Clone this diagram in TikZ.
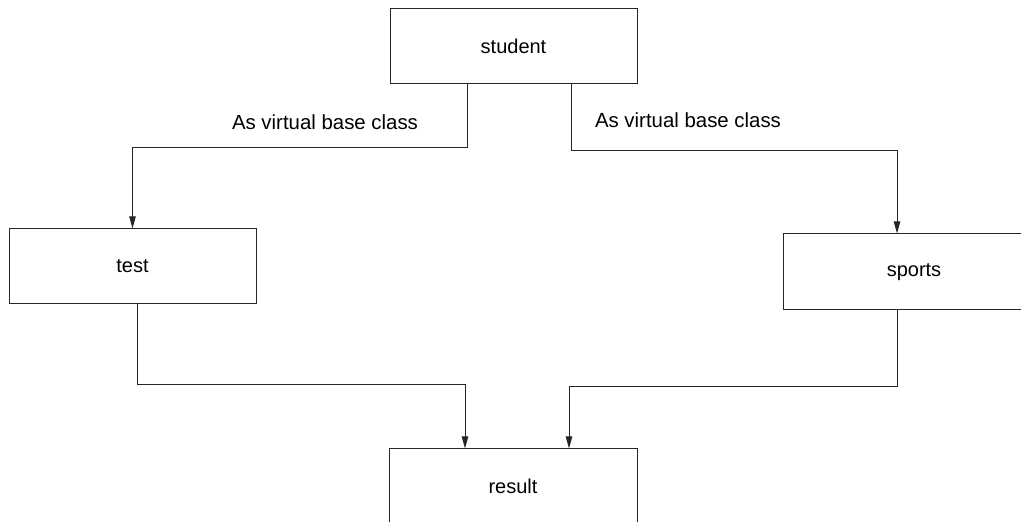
\documentclass[tikz,border=0pt]{standalone}
\usepackage{fontspec}
\setmainfont{Liberation Sans}
\usetikzlibrary{positioning,
				arrows.meta,
				calc}

\tikzset{classbox/.style={draw=black!85, line width=0.5pt, minimum height=37.5pt, inner sep=0pt, font=\fontsize{10}{12}\selectfont},
	inherit/.style={draw=black!85, line width=0.5pt, -{Triangle[length=6pt,width=3.2pt]}},
	vlabel/.style={font=\fontsize{10.2}{12}\selectfont, inner sep=0pt}}

\begin{document}
\begin{tikzpicture}[x=0.5pt, y=-0.5pt]
	\useasboundingbox (0,0) rectangle (1021,522);
	\node[classbox, minimum width=123.5pt] (student) at (513.5,46.5) {student};
	\node[classbox, minimum width=123.5pt] (test) at (132.5,266.5) {test};
	\node[classbox, minimum width=131pt, minimum height=38pt] (sports) at (914,272) {sports};
	\node[classbox, minimum width=124pt] (result) at (513,486.5) {result};
	\node[vlabel] (lblL) at (325,122) {As virtual base class};
	\node[vlabel] (lblR) at (688,120) {As virtual base class};
	\coordinate (kL) at (467,148);
	\coordinate (kR) at (571,150);
	\coordinate (kR2) at (897,151);
	\coordinate (jL) at (137,385);
	\coordinate (jL2) at (465,385);
	\coordinate (jR) at (897,387);
	\coordinate (jR2) at (569,387);
	\draw[inherit] (student.south -| kL) -- (kL) -| (test.north);
	\draw[inherit] (student.south -| kR) |- (kR2) -- (kR2 |- sports.north);
	\draw[inherit] (test.south -| jL) |- (jL2) -- (jL2 |- result.north);
	\draw[inherit] (sports.south -| jR) |- (jR2) -- (jR2 |- result.north);
\end{tikzpicture}
\end{document}
